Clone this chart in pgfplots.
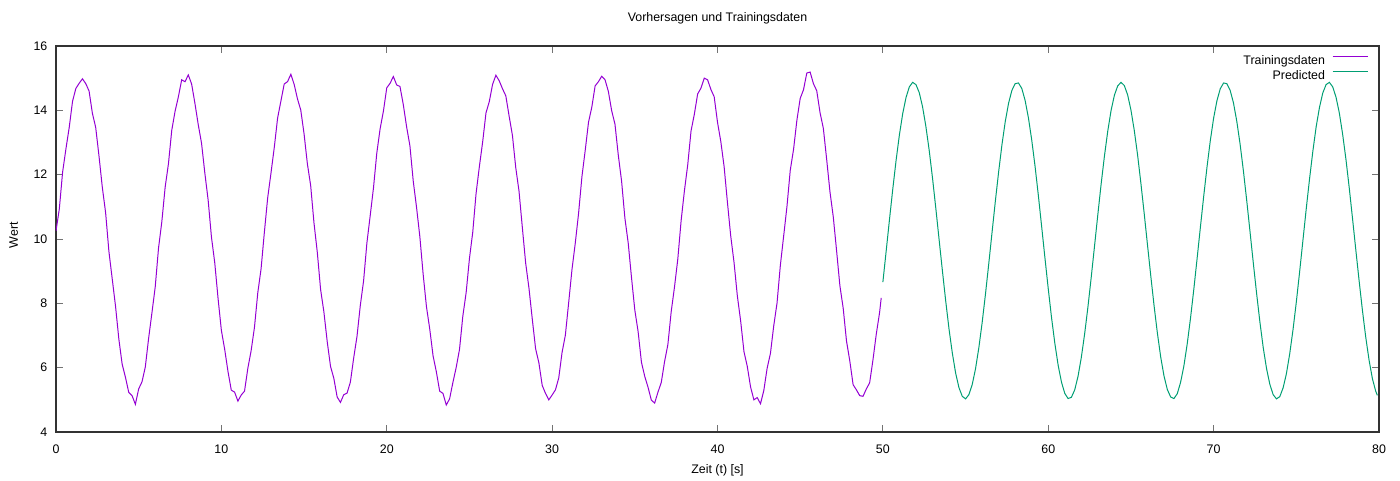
\documentclass[border=0pt]{standalone}
\usepackage{fontspec}
\setmainfont{Liberation Sans}
\usepackage{pgfplots}
\pgfplotsset{compat=1.18}
\definecolor{gpviolet}{HTML}{9400D3}
\definecolor{gpgreen}{HTML}{009E73}
\begin{document}
\begin{tikzpicture}[x=1pt,y=1pt]
\path[use as bounding box] (-56pt,-48pt) rectangle (1344pt,432pt);
\begin{axis}[
  at={(0pt,0pt)}, anchor=south west,
  scale only axis, width=1323pt, height=386pt,
  xmin=0, xmax=80, ymin=4, ymax=16,
  xtick={0,10,...,80}, ytick={4,6,...,16},
  xtick pos=both, ytick pos=both,
  tick align=inside, major tick length=7pt,
  axis line style={black!80, line width=1.1pt},
  tick style={black!55, line width=0.9pt},
  /pgf/number format/assume math mode=true,
  ticklabel style={font=\fontsize{12.4}{14}\selectfont, text=black},
  xticklabel style={anchor=base, yshift=-21pt},
  yticklabel style={anchor=east, inner sep=0pt, xshift=-8.5pt},
  label style={font=\fontsize{12.4}{14}\selectfont},
  title style={font=\fontsize{12.4}{14}\selectfont, at={(axis description cs:0.5,1.0492)}, anchor=base},
  title={Vorhersagen und Trainingsdaten},
  xlabel={Zeit (t) [s]},
  xlabel style={at={(axis description cs:0.5,-0.1088)}, anchor=base},
  ylabel={Wert},
  ylabel style={at={(axis description cs:-0.032,0.51)}, anchor=center},
  legend cell align=right,
  legend plot pos=right,
  legend image code/.code={\draw[#1] (0pt,4pt) -- (35pt,4pt);},
  legend style={draw=none, fill=none, inner sep=0pt, outer sep=0pt,
    at={(axis description cs:1,1)}, anchor=north east, xshift=-11pt, yshift=-9pt,
    font=\fontsize{12.4}{14}\selectfont, column sep=7pt, row sep=3pt,
    nodes={inner sep=0pt, text height=9pt, text depth=3pt}},
]
\addplot[gpviolet, line width=1pt] coordinates {
(0,10.25) (0.2,10.93) (0.4,12.08) (0.6,12.80) (0.8,13.47) (1.0,14.28) (1.2,14.68) (1.4,14.84) (1.6,14.98) (1.8,14.83)
(2.0,14.60) (2.2,13.91) (2.4,13.47) (2.6,12.58) (2.8,11.61) (3.0,10.82) (3.2,9.61) (3.4,8.76) (3.6,7.91) (3.8,6.89)
(4.0,6.11) (4.2,5.70) (4.4,5.23) (4.6,5.13) (4.8,4.86) (5.0,5.34) (5.2,5.56) (5.4,6.02) (5.6,6.91) (5.8,7.70)
(6.0,8.51) (6.2,9.72) (6.4,10.54) (6.6,11.61) (6.8,12.34) (7.0,13.38) (7.2,13.97) (7.4,14.42) (7.6,14.95) (7.8,14.89)
(8.0,15.10) (8.2,14.82) (8.4,14.22) (8.6,13.56) (8.8,12.98) (9.0,12.05) (9.2,11.21) (9.4,10.06) (9.6,9.26) (9.8,8.15)
(10.0,7.16) (10.2,6.57) (10.4,5.88) (10.6,5.30) (10.8,5.24) (11.0,4.96) (11.2,5.15) (11.4,5.27) (11.6,5.98) (11.8,6.53)
(12.0,7.25) (12.2,8.32) (12.4,9.07) (12.6,10.21) (12.8,11.28) (13.0,12.05) (13.2,12.85) (13.4,13.76) (13.6,14.29) (13.8,14.82)
(14.0,14.89) (14.2,15.12) (14.4,14.81) (14.6,14.36) (14.8,14.01) (15.0,13.27) (15.2,12.34) (15.4,11.66) (15.6,10.50) (15.8,9.59)
(16.0,8.43) (16.2,7.73) (16.4,6.81) (16.6,6.04) (16.8,5.67) (17.0,5.09) (17.2,4.92) (17.4,5.16) (17.6,5.21) (17.8,5.55)
(18.0,6.30) (18.2,6.97) (18.4,7.93) (18.6,8.70) (18.8,9.88) (19.0,10.73) (19.2,11.60) (19.4,12.68) (19.6,13.43) (19.8,13.98)
(20.0,14.70) (20.2,14.84) (20.4,15.05) (20.6,14.79) (20.8,14.74) (21.0,14.18) (21.2,13.49) (21.4,12.90) (21.6,11.81) (21.8,10.99)
(22.0,10.08) (22.2,8.91) (22.4,7.90) (22.6,7.20) (22.8,6.37) (23.0,5.87) (23.2,5.27) (23.4,5.20) (23.6,4.84) (23.8,5.03)
(24.0,5.54) (24.2,6.01) (24.4,6.57) (24.6,7.60) (24.8,8.33) (25.0,9.39) (25.2,10.21) (25.4,11.41) (25.6,12.25) (25.8,13.02)
(26.0,13.92) (26.2,14.27) (26.4,14.81) (26.6,15.09) (26.8,14.92) (27.0,14.67) (27.2,14.45) (27.4,13.82) (27.6,13.22) (27.8,12.22)
(28.0,11.48) (28.2,10.35) (28.4,9.25) (28.6,8.47) (28.8,7.51) (29.0,6.59) (29.2,6.15) (29.4,5.45) (29.6,5.20) (29.8,5.00)
(30.0,5.15) (30.2,5.31) (30.4,5.68) (30.6,6.47) (30.8,7.01) (31.0,8.02) (31.2,9.05) (31.4,9.87) (31.6,10.80) (31.8,11.93)
(32.0,12.75) (32.2,13.63) (32.4,14.10) (32.6,14.76) (32.8,14.89) (33.0,15.06) (33.2,14.95) (33.4,14.59) (33.6,13.99) (33.8,13.57)
(34.0,12.61) (34.2,11.80) (34.4,10.65) (34.6,9.88) (34.8,8.80) (35.0,7.79) (35.2,7.12) (35.4,6.17) (35.6,5.73) (35.8,5.39)
(36.0,4.99) (36.2,4.90) (36.4,5.24) (36.6,5.54) (36.8,6.19) (37.0,6.72) (37.2,7.74) (37.4,8.51) (37.6,9.38) (37.8,10.57)
(38.0,11.50) (38.2,12.31) (38.4,13.36) (38.6,13.88) (38.8,14.51) (39.0,14.69) (39.2,15.00) (39.4,14.95) (39.6,14.65) (39.8,14.42)
(40.0,13.63) (40.2,13.03) (40.4,12.25) (40.6,11.14) (40.8,10.09) (41.0,9.27) (41.2,8.23) (41.4,7.45) (41.6,6.50) (41.8,6.04)
(42.0,5.40) (42.2,5.00) (42.4,5.07) (42.6,4.88) (42.8,5.29) (43.0,5.98) (43.2,6.44) (43.4,7.30) (43.6,8.01) (43.8,9.18)
(44.0,10.09) (44.2,11.01) (44.4,12.14) (44.6,12.79) (44.8,13.69) (45.0,14.37) (45.2,14.64) (45.4,15.16) (45.6,15.19) (45.8,14.83)
(46.0,14.61) (46.2,13.93) (46.4,13.44) (46.6,12.48) (46.8,11.47) (47.0,10.69) (47.2,9.64) (47.4,8.55) (47.6,7.85) (47.8,6.83)
(48.0,6.21) (48.2,5.47) (48.4,5.31) (48.6,5.13) (48.8,5.11) (49.0,5.34) (49.2,5.53) (49.4,6.24) (49.6,7.04) (49.8,7.71)
(49.9,8.17)
};
\addlegendentry{Trainingsdaten}
\addplot[gpgreen, line width=1pt] coordinates {
(50.0,8.66) (50.2,9.63) (50.4,10.61) (50.6,11.56) (50.8,12.45) (51.0,13.24) (51.2,13.90) (51.4,14.40) (51.6,14.73) (51.8,14.87)
(52.0,14.80) (52.2,14.55) (52.4,14.11) (52.6,13.50) (52.8,12.76) (53.0,11.90) (53.2,10.96) (53.4,9.98) (53.6,9.01) (53.8,8.07)
(54.0,7.20) (54.2,6.45) (54.4,5.83) (54.6,5.38) (54.8,5.11) (55.0,5.03) (55.2,5.16) (55.4,5.47) (55.6,5.96) (55.8,6.61)
(56.0,7.39) (56.2,8.27) (56.4,9.22) (56.6,10.20) (56.8,11.17) (57.0,12.09) (57.2,12.93) (57.4,13.65) (57.6,14.22) (57.8,14.62)
(58.0,14.83) (58.2,14.85) (58.4,14.68) (58.6,14.31) (58.8,13.77) (59.0,13.08) (59.2,12.27) (59.4,11.36) (59.6,10.39) (59.8,9.41)
(60.0,8.45) (60.2,7.55) (60.4,6.75) (60.6,6.07) (60.8,5.55) (61.0,5.20) (61.2,5.04) (61.4,5.08) (61.6,5.31) (61.8,5.73)
(62.0,6.32) (62.2,7.05) (62.4,7.89) (62.6,8.82) (62.8,9.79) (63.0,10.77) (63.2,11.72) (63.4,12.59) (63.6,13.36) (63.8,14.00)
(64.0,14.47) (64.2,14.76) (64.4,14.87) (64.6,14.77) (64.8,14.48) (65.0,14.01) (65.2,13.38) (65.4,12.62) (65.6,11.74) (65.8,10.80)
(66.0,9.82) (66.2,8.85) (66.4,7.92) (66.6,7.07) (66.8,6.33) (67.0,5.74) (67.2,5.32) (67.4,5.09) (67.6,5.04) (67.8,5.19)
(68.0,5.54) (68.2,6.05) (68.4,6.73) (68.6,7.53) (68.8,8.43) (69.0,9.39) (69.2,10.37) (69.4,11.33) (69.6,12.24) (69.8,13.06)
(70.0,13.76) (70.2,14.30) (70.4,14.67) (70.6,14.85) (70.8,14.83) (71.0,14.62) (71.2,14.23) (71.4,13.66) (71.6,12.95) (71.8,12.12)
(72.0,11.20) (72.2,10.23) (72.4,9.25) (72.6,8.30) (72.8,7.41) (73.0,6.62) (73.2,5.97) (73.4,5.48) (73.6,5.16) (73.8,5.03)
(74.0,5.10) (74.2,5.37) (74.4,5.81) (74.6,6.43) (74.8,7.18) (75.0,8.04) (75.2,8.98) (75.4,9.96) (75.6,10.94) (75.8,11.87)
(76.0,12.73) (76.2,13.49) (76.4,14.09) (76.6,14.54) (76.8,14.80) (77.0,14.87) (77.2,14.73) (77.4,14.41) (77.6,13.92) (77.8,13.26)
(78.0,12.48) (78.2,11.59) (78.4,10.63) (78.6,9.65) (78.8,8.69) (79.0,7.77) (79.2,6.94) (79.4,6.23) (79.6,5.66) (79.8,5.27)
(79.9,5.14)
};
\addlegendentry{Predicted}
\end{axis}
\end{tikzpicture}
\end{document}
